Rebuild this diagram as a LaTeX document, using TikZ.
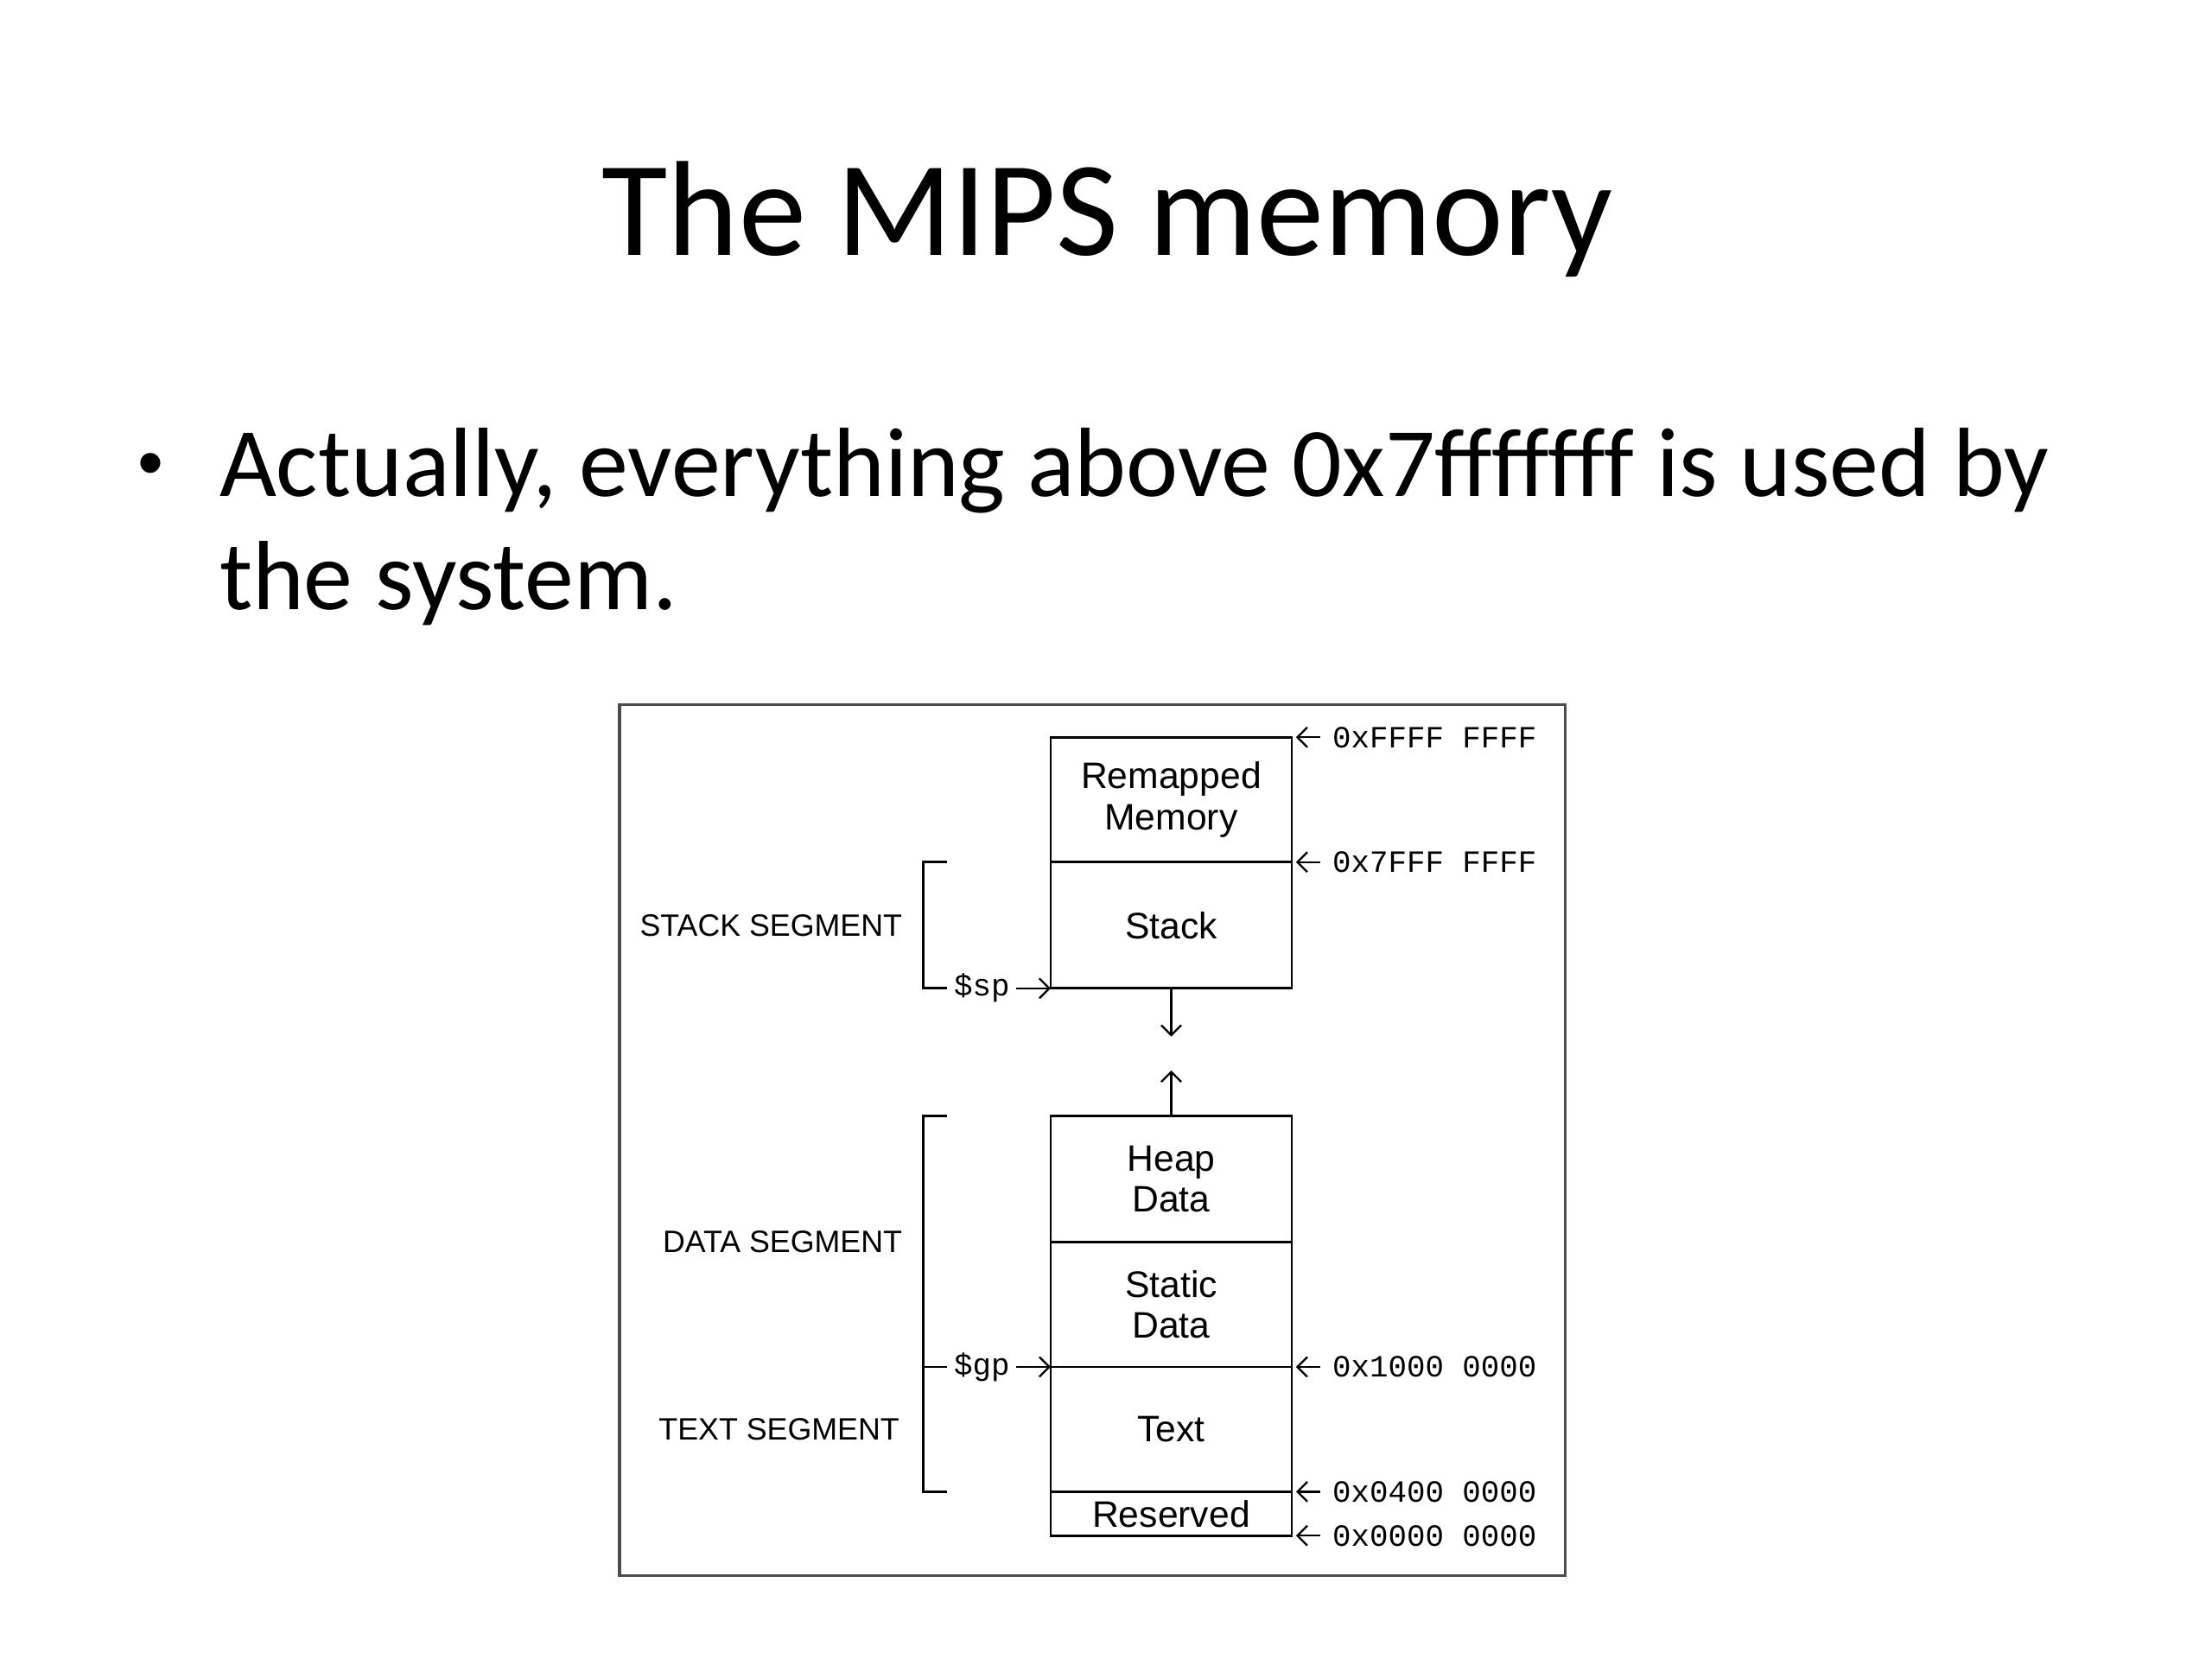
\documentclass[tikz,border=0pt]{standalone}
\usepackage{fontspec}
\setmainfont{Carlito}
\setmonofont{Liberation Mono}
\newfontfamily\arialfont{Liberation Sans}
\usetikzlibrary{arrows.meta, positioning}

\begin{document}
\begin{tikzpicture}[x=0.5pt,y=-0.5pt,>={Straight Barb[length=3.5pt,width=7pt]},
  line width=0.8pt,
  membox/.style={draw,minimum width=85pt,inner sep=0pt,outer sep=0pt,align=center,
    font=\arialfont\fontsize{13}{14.5}\selectfont},
  addr/.style={font=\ttfamily\fontsize{10.9}{12}\selectfont,inner sep=1pt},
  seglabel/.style={font=\arialfont\fontsize{10.9}{12}\selectfont,inner sep=0pt},
  ptr/.style={font=\ttfamily\fontsize{10.9}{12}\selectfont,inner sep=2pt,anchor=west},
  pointer/.style={->,line width=0.7pt}]
  \useasboundingbox (0,0) rectangle (1560,1170);
  \node[font=\fontsize{47.7}{57}\selectfont,anchor=base] (title) at (781,180) {The MIPS memory};
  \node[font=\arialfont\fontsize{26}{30}\selectfont,anchor=base] (bullet) at (106,344) {\textbullet};
  \node[font=\fontsize{34.7}{40}\selectfont,anchor=base west,inner sep=0pt] (line1) at (154,350) {Actually, everything above 0x7fffffff is used by};
  \node[font=\fontsize{34.7}{40}\selectfont,anchor=base west,inner sep=0pt] (line2) at (154,430) {the system.};
  % frame round the figure
  \draw[black!70,line width=1pt] (437,497) rectangle (1104,1111);
  % memory segments
  \node[membox,minimum height=44pt] (remap) at (826,564) {Remapped\\Memory};
  \node[membox,minimum height=44.5pt,below=0pt of remap] (stack) {Stack};
  \node[membox,minimum height=44.5pt] (heap) at (826,831.5) {Heap\\Data};
  \node[membox,minimum height=44pt,below=0pt of heap] (static) {Static\\Data};
  \node[membox,minimum height=44pt,below=0pt of static] (text) {Text};
  \node[membox,minimum height=15.5pt,below=0pt of text] (resvd) {Reserved};
  % addresses
  \node[addr,right=13pt of remap.north east] (aFFFF) {0xFFFF FFFF};
  \node[addr,right=13pt of stack.north east] (a7FFF) {0x7FFF FFFF};
  \node[addr,right=13pt of text.north east] (a1000) {0x1000 0000};
  \node[addr,right=13pt of resvd.north east] (a0400) {0x0400 0000};
  \node[addr,right=13pt of resvd.south east] (a0000) {0x0000 0000};
  \path[pointer,shorten <=3pt,shorten >=1.5pt]
    (aFFFF.west) edge (remap.north east)
    (a7FFF.west) edge (stack.north east)
    (a1000.west) edge (text.north east)
    (a0400.west) edge (resvd.north east)
    (a0000.west) edge (resvd.south east);
  % stack and heap grow towards each other
  \coordinate[below=17pt of stack] (sgrow);
  \coordinate[above=16pt of heap] (hgrow);
  \path[pointer] (stack) edge (sgrow) (heap) edge (hgrow);
  % stack segment bracket
  \coordinate[left=36.5pt of stack.north west] (stop);
  \coordinate[left=36.5pt of stack.south west] (sbot);
  \draw (stop) -- ++(-8.5pt,0) |- (sbot);
  \node[ptr] (sp) at (sbot) {\$sp};
  \draw[pointer] (sp) -- (stack.south west);
  % data and text segment bracket
  \coordinate[left=36.5pt of heap.north west] (dtop);
  \coordinate[left=36.5pt of text.south west] (dbot);
  \coordinate[left=36.5pt of text.north west] (gmid);
  \draw (dtop) -- ++(-8.5pt,0) |- (dbot);
  \draw (gmid) -- ++(-8.5pt,0);
  \node[ptr] (gp) at (gmid) {\$gp};
  \draw[pointer] (gp) -- (text.north west);
  % segment names
  \node[seglabel,left=52pt of stack] (stackseg) {STACK SEGMENT};
  \node[seglabel,left=52pt of heap.south west] (dataseg) {DATA SEGMENT};
  \node[seglabel,left=53pt of text] (textseg) {TEXT SEGMENT};
\end{tikzpicture}
\end{document}
